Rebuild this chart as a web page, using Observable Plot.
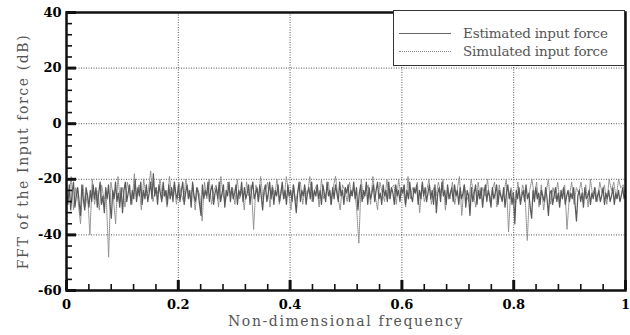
<!DOCTYPE html>
<html><head><meta charset="utf-8">
<script src="https://cdn.jsdelivr.net/npm/d3@7"></script>
<script src="https://cdn.jsdelivr.net/npm/@observablehq/plot@0.6"></script>
<style>
body{margin:0;background:#fff;}
#wrap{position:relative;width:630px;height:335px;}
#wrap svg [aria-label="x-axis label"] text,#wrap svg [aria-label="y-axis label"] text{font-weight:normal;fill:#555;font-size:14px;letter-spacing:1.6px;}
#legend{position:absolute;left:393px;top:10px;width:230px;height:54px;border:1.5px solid #333;background:#fff;font-family:"DejaVu Serif",serif;font-size:13.5px;color:#555;letter-spacing:-0.2px;}
.row{position:absolute;left:5px;height:16px;display:flex;align-items:center;white-space:nowrap;}
.sw{width:52px;height:0;margin-right:12px;}
</style>
</head><body>
<div id="wrap"><div id="legend">
<div class="row" style="top:14px"><div class="sw" style="border-top:1px solid #666"></div><span>Estimated input force</span></div>
<div class="row" style="top:32px"><div class="sw" style="border-top:1px dotted #888"></div><span>Simulated input force</span></div>
</div></div>
<script>
const xMajor = [0, 0.2, 0.4, 0.6, 0.8, 1];
const xMinor = [0.04,0.08,0.12,0.16,0.24,0.28,0.32,0.36,0.44,0.48,0.52,0.56,0.64,0.68,0.72,0.76,0.84,0.88,0.92,0.96];
const yMajor = [-60, -40, -20, 0, 20, 40];
const yMinor = [-56,-52,-48,-44,-36,-32,-28,-24,-16,-12,-8,-4,4,8,12,16,24,28,32,36];
const gridXVals = [0.2, 0.4, 0.6, 0.8];
const gridYVals = [-40, -20, 0, 20];

const estimated = [
-24,-29,-22,-31,-25,-21,-30,-26,-23,-28,-33,-22,-27,-31,-23,-26,-30,-24,-28,-22,
-27,-23,-30,-25,-21,-29,-26,-32,-23,-27,-22,-29,-34,-24,-27,-21,-28,-25,-30,-23,
-32,-24,-21,-28,-25,-22,-29,-24,-27,-20,-28,-23,-26,-21,-29,-24,-27,-22,-28,-25,
-21,-27,-18,-26,-23,-29,-22,-25,-28,-21,-26,-24,-29,-22,-27,-23,-28,-21,-25,-27,
-22,-28,-24,-21,-29,-25,-22,-27,-24,-30,-21,-26,-28,-23,-25,-29,-33,-22,-27,-24,
-26,-21,-28,-24,-22,-29,-25,-23,-27,-21,-28,-25,-22,-30,-24,-26,-21,-28,-23,-27,
-25,-22,-29,-24,-26,-21,-28,-23,-27,-25,-22,-29,-24,-21,-27,-25,-23,-28,-22,-26,
-31,-24,-22,-28,-25,-21,-27,-23,-29,-24,-26,-22,-28,-25,-21,-27,-24,-29,-22,-26,
-24,-28,-22,-27,-32,-25,-21,-28,-24,-26,-22,-29,-25,-23,-27,-21,-28,-24,-26,-22,
-27,-24,-29,-22,-25,-28,-21,-26,-24,-29,-23,-27,-22,-25,-28,-21,-26,-24,-29,-23,
-25,-22,-28,-24,-26,-21,-27,-23,-31,-25,-22,-28,-24,-26,-21,-29,-23,-27,-25,-22,
-28,-24,-21,-27,-25,-29,-22,-26,-24,-28,-21,-27,-23,-25,-29,-22,-26,-24,-28,-23,
-25,-22,-29,-24,-27,-21,-26,-28,-23,-25,-22,-29,-24,-27,-21,-26,-23,-28,-25,-22,
-27,-24,-29,-22,-32,-25,-23,-28,-21,-26,-24,-29,-22,-27,-25,-23,-28,-22,-26,-24,
-29,-23,-27,-25,-22,-30,-24,-26,-33,-23,-28,-25,-22,-29,-24,-27,-23,-30,-25,-22,
-28,-24,-26,-30,-23,-27,-25,-22,-29,-24,-26,-28,-23,-30,-25,-22,-27,-24,-29,-25,
-36,-24,-27,-23,-29,-26,-24,-28,-22,-27,-25,-30,-34,-24,-28,-23,-27,-25,-29,-24,
-26,-28,-23,-27,-33,-25,-24,-29,-26,-23,-28,-25,-30,-24,-27,-23,-29,-26,-24,-28,
-25,-27,-23,-29,-35,-26,-24,-28,-25,-30,-23,-27,-26,-24,-29,-25,-27,-23,-28,-26,
-24,-28,-26,-23,-29,-25,-27,-24,-28,-26,-23,-29,-25,-27,-24,-28,-26,-23,-27,-25
];
const simulated = [
-21,-27,-19,-31,-23,-28,-36,-22,-30,-25,-40,-20,-29,-24,-31,-22,-27,-26,-48,-21,
-26,-36,-19,-28,-23,-30,-21,-25,-29,-18,-27,-22,-31,-20,-26,-24,-17,-28,-23,-25,
-20,-27,-24,-30,-19,-26,-22,-29,-21,-25,-28,-20,-24,-27,-22,-31,-23,-26,-35,-21,
-27,-20,-29,-24,-22,-30,-19,-26,-28,-21,-25,-23,-29,-20,-27,-24,-31,-21,-26,-22,
-38,-22,-28,-19,-27,-24,-21,-30,-22,-26,-20,-29,-23,-27,-19,-25,-31,-22,-28,-24,
-21,-29,-23,-26,-19,-28,-24,-22,-30,-20,-27,-25,-21,-29,-23,-19,-26,-31,-22,-24,
-28,-21,-26,-23,-30,-43,-20,-27,-24,-22,-29,-19,-26,-31,-21,-25,-28,-20,-27,-23,
-22,-29,-20,-26,-24,-30,-19,-27,-23,-25,-21,-32,-22,-28,-24,-20,-29,-23,-26,-21,
-25,-20,-31,-23,-27,-21,-29,-24,-19,-33,-22,-26,-28,-20,-25,-30,-21,-27,-23,-26,
-20,-28,-24,-21,-30,-22,-27,-25,-20,-39,-23,-26,-29,-21,-28,-22,-25,-42,-24,-20,
-26,-21,-30,-22,-31,-25,-20,-29,-23,-27,-21,-28,-24,-22,-38,-26,-21,-29,-23,-25,
-21,-27,-22,-30,-20,-26,-23,-28,-21,-25,-22,-29,-20,-24,-21,-27,-20,-23,-22,-26
];

const toRows = arr => arr.map((v, i) => ({f: i / (arr.length - 1), db: v}));
const estRows = toRows(estimated);
const simRows = toRows(simulated);
const frameH = 335 - 12 - 45;
const frameW = 630 - 66 - 5;

const chart = Plot.plot({
  width: 630, height: 335,
  marginLeft: 66, marginRight: 5, marginTop: 12, marginBottom: 45,
  x: {domain: [0, 1]},
  y: {domain: [-60, 40]},
  style: {fontFamily: "DejaVu Serif, serif", fontSize: "13px", fontWeight: "bold"},
  marks: [
    Plot.gridX(gridXVals, {stroke: "#444", strokeOpacity: 0.9, strokeDasharray: "1,1.5"}),
    Plot.gridY(gridYVals, {stroke: "#444", strokeOpacity: 0.9, strokeDasharray: "1,1.5"}),
    Plot.line(simRows, {x: "f", y: "db", stroke: "#8c8c8c", strokeWidth: 1, strokeDasharray: "1,1"}),
    Plot.line(estRows, {x: "f", y: "db", stroke: "#5a5a5a", strokeWidth: 1.25}),
    Plot.axisX(xMajor, {tickSize: 0, tickPadding: 9, tickFormat: d => String(d), label: "Non-dimensional frequency", labelAnchor: "center", labelOffset: 35, labelArrow: "none"}),
    Plot.axisY(yMajor, {tickSize: 0, tickPadding: 5, tickFormat: d => String(d), label: "FFT of the Input force (dB)", labelAnchor: "center", labelOffset: 48, labelArrow: "none"}),
    Plot.frame({stroke: "#111", strokeWidth: 2.5}),
    Plot.tickX(xMinor, {x: d => d, insetTop: frameH - 6, stroke: "#111", strokeWidth: 1.6}),
    Plot.tickX(xMajor, {x: d => d, insetTop: frameH - 10, stroke: "#111", strokeWidth: 3}),
    Plot.tickY(yMinor, {y: d => d, insetRight: frameW - 6, stroke: "#111", strokeWidth: 1.6}),
    Plot.tickY(yMajor, {y: d => d, insetRight: frameW - 10, stroke: "#111", strokeWidth: 3})
  ]
});
document.getElementById("wrap").prepend(chart);
</script>
</body></html>
